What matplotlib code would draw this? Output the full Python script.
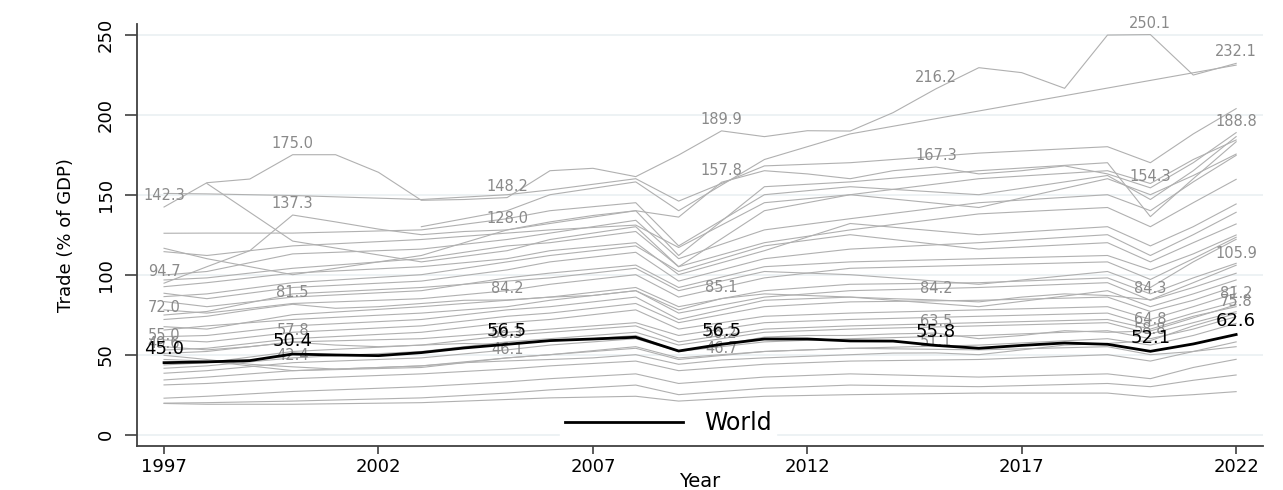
import numpy as np
import matplotlib.pyplot as plt

plt.rcParams['font.family'] = ['DejaVu Sans']

nan = np.nan

# full yearly series (labelled ones + world)
years = list(range(1997, 2023))
world = [45.0, 45.5, 46.3, 50.4, 49.8, 49.4, 51.3, 54.2, 56.5, 58.8, 59.8, 60.9, 52.3,
         56.5, 59.8, 59.8, 58.6, 58.5, 55.8, 54.0, 55.8, 57.3, 56.5, 52.1, 56.7, 62.6]
lab1 = [142.3, 157.5, 159.8, 175.0, 175.0, 164.0, 146.5, 147.0, 148.2, 165.0, 166.5, 161.3, 174.8,
        189.9, 186.3, 190.0, 189.8, 201.3, 216.2, 229.4, 226.3, 216.5, 249.8, 250.1, 224.8, 232.1]
lab2 = [94.7, 105.0, 115.0, 137.3, 133.0, 128.5, 125.0, 127.0, 128.0, 133.0, 137.0, 140.0, 136.0,
        157.8, 165.0, 163.0, 160.0, 165.0, 167.3, 163.0, 165.0, 168.0, 163.0, 154.3, 170.0, 188.8]
lab3 = [72.0, 74.0, 78.0, 81.5, 79.0, 80.0, 82.0, 84.0, 84.2, 86.0, 87.0, 90.0, 78.0,
        85.1, 88.0, 87.0, 86.0, 85.0, 84.2, 83.0, 86.0, 88.0, 87.0, 84.3, 95.0, 105.9]
lab4 = [55.0, 53.0, 55.0, 57.8, 56.0, 55.0, 56.0, 57.0, 56.3, 59.0, 60.0, 62.0, 52.0,
        56.2, 61.0, 62.0, 62.0, 63.0, 63.5, 60.0, 62.0, 65.0, 64.0, 64.8, 73.0, 81.2]
lab5 = [49.6, 47.0, 44.0, 42.4, 41.0, 42.0, 43.0, 45.0, 46.1, 47.0, 48.0, 50.0, 44.0,
        46.7, 48.0, 49.0, 50.0, 51.0, 51.1, 50.0, 53.0, 56.0, 57.0, 58.8, 68.0, 75.8]
label_years = [1997, 2000, 2005, 2010, 2015, 2020, 2022]

# other countries, sparse years
grid_years = [1997, 1998, 2000, 2003, 2005, 2006, 2008, 2009, 2011, 2013, 2016, 2019, 2020, 2021, 2022]
others = [
    [nan, nan, nan, 130, 140, 150, 158, 140, 172, 188, nan, nan, nan, nan, 231.0],
    [150.8, 150.5, 149.5, 147, 150, 153, 160, 146, 168, 170, 176, 180, 170, 188, 203.8],
    [125.9, 126, 126, 128, 135, 140, 145, 118, 150, 155, 150, 162, 147, 165, 186.3],
    [nan, 157.0, 121, 108, 115, 122, 130, 105, 140, 150, 160, 165, 157, 172, 184.2],
    [116.5, 110, 100, 112, 128, 132, 140, 112, 155, 158, 165, 170, 136.3, 160, 183.1],
    [114.4, 112, 118, 122, 126, 128, 131, 117, 145, 150, 142, 160, 150, 162, 175.4],
    [99.8, 102, 113, 116, 122, 126, 134, 110, 128, 135, 145, 150, 140, 158, 174.6],
    [96.7, 98, 104, 110, 118, 120, 127, 105, 120, 128, 138, 142, 130, 145, 159.6],
    [92.5, 95, 101, 105, 110, 115, 120, 100, 115, 132, 125, 130, 118, 130, 144.2],
    [88.4, 85, 92, 96, 103, 108, 114, 96, 110, 116, 120, 125, 112, 125, 139.0],
    [86.3, 88, 95, 100, 108, 112, 118, 102, 118, 125, 116, 120, 108, 120, 131.7],
    [83.2, 80, 86, 90, 98, 101, 106, 92, 105, 108, 110, 112, 103, 113, 124.8],
    [78.0, 76, 82, 85, 90, 94, 100, 86, 98, 104, 106, 108, 97, 110, 123.4],
    [74.8, 77, 88, 92, 96, 98, 104, 90, 102, 100, 94, 102, 92, 108, 122.1],
    [67.5, 66, 75, 80, 84, 86, 92, 80, 90, 94, 95, 98, 88, 98, 107.1],
    [65.4, 68, 72, 76, 80, 84, 90, 76, 86, 90, 92, 95, 84, 92, 100.9],
    [61.3, 62, 68, 72, 78, 80, 86, 72, 84, 86, 80, 90, 80, 88, 96.7],
    [59.2, 58, 64, 68, 74, 76, 82, 70, 80, 83, 84, 86, 77, 84, 92.9],
    [52.9, 54, 60, 64, 70, 72, 78, 66, 74, 76, 78, 80, 72, 80, 88.4],
    [50.8, 52, 58, 60, 64, 66, 70, 62, 70, 72, 74, 76, 68, 76, 83.1],
    [43.6, 45, 52, 56, 62, 64, 68, 58, 66, 68, 70, 72, 66, 74, 80.0],
    [41.5, 43, 48, 52, 58, 60, 64, 56, 64, 66, 68, 70, 63, 70, 76.9],
    [38.4, 40, 45, 48, 53, 56, 60, 52, 58, 60, 62, 65, 60, 66, 73.8],
    [34.2, 36, 40, 43, 48, 50, 54, 47, 52, 54, 56, 60, 56, 62, 69.6],
    [31.1, 32, 35, 38, 41, 43, 46, 40, 44, 46, 47, 50, 46, 52, 58.0],
    [47.0, 46, 40, 42, 48, 50, 55, 48, 52, 54, 53, 55, 50, 52, 55.0],
    [22.8, 24, 27, 30, 33, 35, 38, 32, 36, 38, 36, 38, 35, 42, 47.1],
    [19.7, 20, 21, 23, 26, 28, 31, 25, 29, 31, 30, 32, 30, 34, 37.3],
    [19.5, 19, 19, 20, 22, 23, 24, 21, 24, 25, 26, 26, 23.5, 25, 26.9],
]

fig = plt.figure(figsize=(12.83, 4.90), dpi=100)
ax = fig.add_axes([0.1068, 0.0904, 0.9842 - 0.1068, 0.951 - 0.0904])

gray = '#b0b0b0'
gx = np.array(grid_years)
for s in others:
    s = np.array(s, dtype=float)
    m = ~np.isnan(s)
    ax.plot(gx[m], s[m], color=gray, lw=0.8, zorder=2)

labelled = [lab1, lab2, lab3, lab4, lab5]
for s in labelled:
    ax.plot(years, s, color=gray, lw=0.8, zorder=2)
    for yr in label_years:
        v = s[years.index(yr)]
        ax.annotate(f'{v:.1f}', (yr, v), xytext=(0, 11.5), textcoords='offset pixels',
                    ha='center', va='center', fontsize=10.5, color='#8a8a8a', zorder=3)

ax.plot(years, world, color='black', lw=2.0, zorder=4, label='World')
for yr in label_years:
    v = world[years.index(yr)]
    ax.annotate(f'{v:.1f}', (yr, v), xytext=(0, 13.5), textcoords='offset pixels',
                ha='center', va='center', fontsize=13, color='black', zorder=5)

ax.set_xlim(1996.37, 2022.62)
ax.set_ylim(-6.9, 256.7)
ax.set_xticks([1997, 2002, 2007, 2012, 2017, 2022])
ax.set_yticks([0, 50, 100, 150, 200, 250])
ax.grid(axis='y', color='#eaf0f2', lw=1.2, zorder=0)
ax.set_axisbelow(True)
for sp in ['top', 'right']:
    ax.spines[sp].set_visible(False)
for sp in ['left', 'bottom']:
    ax.spines[sp].set_color('#404040')
    ax.spines[sp].set_linewidth(1.3)
ax.tick_params(axis='y', length=9, width=1.2, color='#404040', pad=7, labelsize=13, labelrotation=90)
ax.tick_params(axis='x', length=6, width=1.2, color='#404040', pad=3, labelsize=13)
for t in ax.get_yticklabels():
    t.set_va('center')

ax.set_ylabel('Trade (% of GDP)', fontsize=13)
ax.yaxis.set_label_coords(-0.063, 0.5)
ax.yaxis.label.set_va('center')
ax.set_xlabel('Year', fontsize=14)
ax.xaxis.set_label_coords(0.5, -0.084)
ax.xaxis.label.set_va('center')

leg = ax.legend(loc='center', bbox_to_anchor=(668 / 1283, 1 - 423 / 490), bbox_transform=fig.transFigure,
                fontsize=17, handlelength=5.0, handletextpad=0.9, borderpad=0.2,
                frameon=True, facecolor='white', edgecolor='white', framealpha=1, fancybox=False)
leg.set_zorder(6)

fig.savefig('out.png', dpi=100)
